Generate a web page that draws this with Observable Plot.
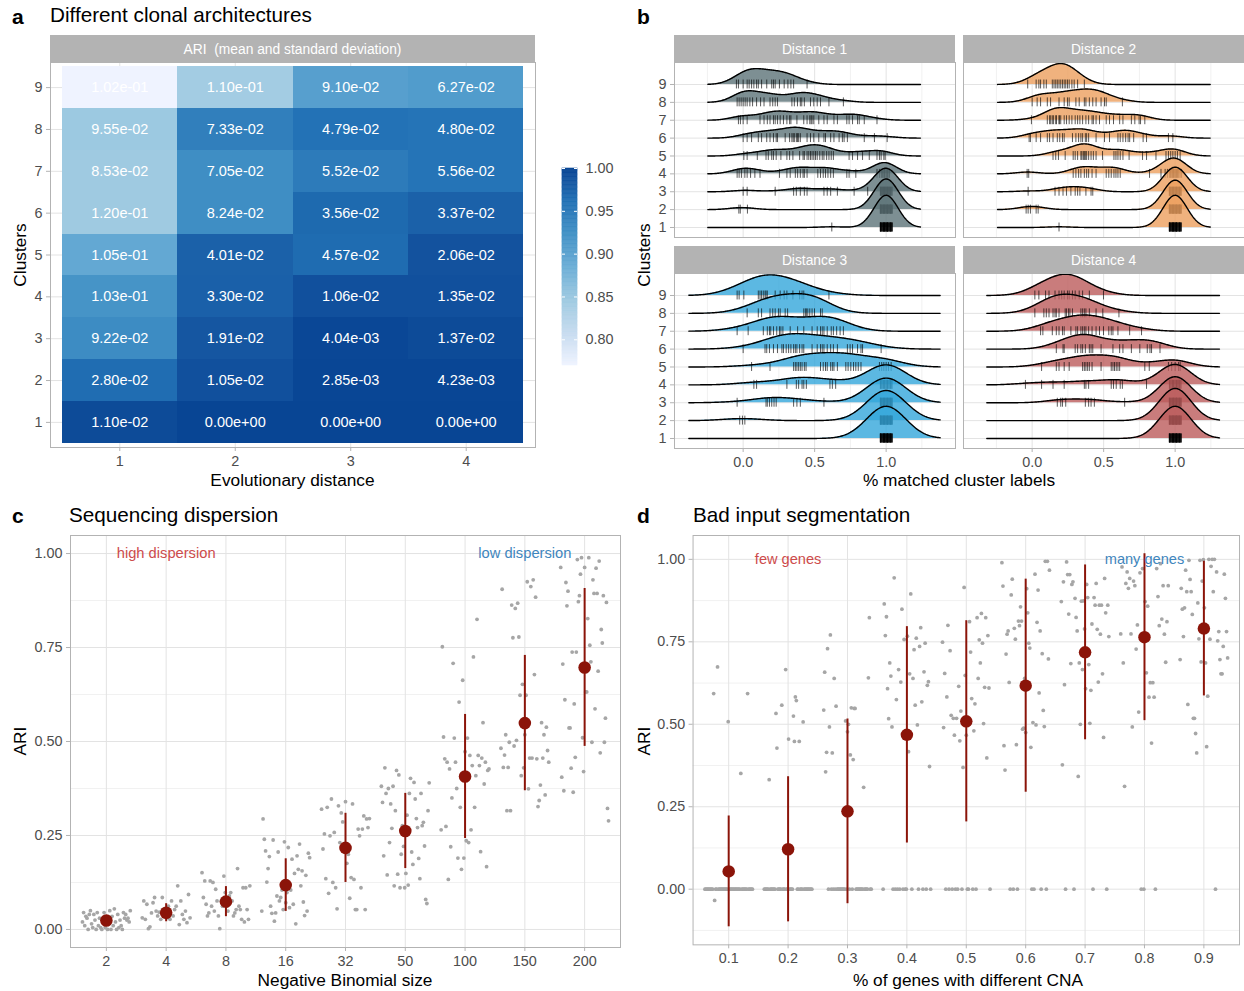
<!DOCTYPE html>
<html>
<head>
<meta charset="utf-8">
<script src="https://cdn.jsdelivr.net/npm/d3@7"></script>
<script src="https://cdn.jsdelivr.net/npm/@observablehq/plot@0.6"></script>
<style>
  html, body { margin:0; padding:0; background:#ffffff; }
  #root { position:relative; width:1244px; height:991px; overflow:hidden; font-family:"Liberation Sans", Arial, Helvetica, sans-serif; }
  .panel { position:absolute; }
  .panel svg { overflow: visible; }
  #overlay { position:absolute; left:0; top:0; pointer-events:none; }
</style>
</head>
<body>
<div id="root"></div>
<script>
// ---------------- DATA ----------------
// Panel a: ARI mean (fill) and standard deviation (label), clusters 1..9
const distances = [1, 2, 3, 4];
const clusters = [1, 2, 3, 4, 5, 6, 7, 8, 9];
const ariMeanD1 = [0.995, 0.965, 0.93, 0.92, 0.893, 0.846, 0.846, 0.848, 0.77];
const ariMeanD2 = [1.0, 0.99, 0.985, 0.976, 0.975, 0.928, 0.928, 0.945, 0.842];
const ariMeanD3 = [1.0, 0.999, 0.998, 0.99, 0.966, 0.968, 0.95, 0.96, 0.905];
const ariMeanD4 = [1.0, 0.999, 0.995, 0.99, 0.988, 0.975, 0.958, 0.958, 0.91];
const ariSdD1 = [0.0110, 0.0280, 0.0922, 0.103, 0.105, 0.120, 0.0853, 0.0955, 0.102];
const ariSdD2 = [0, 0.0105, 0.0191, 0.0330, 0.0401, 0.0824, 0.0705, 0.0733, 0.110];
const ariSdD3 = [0, 0.00285, 0.00404, 0.0106, 0.0457, 0.0356, 0.0552, 0.0479, 0.0910];
const ariSdD4 = [0, 0.00423, 0.0137, 0.0135, 0.0206, 0.0337, 0.0556, 0.0480, 0.0627];
const colorbarTicks = [0.80, 0.85, 0.90, 0.95, 1.00];

// Panel b: % matched cluster labels per run (rug values), clusters 1..9, per distance
const ridgeD1 = [
 [.62,.96,.97,.98,.99,1,1.01,1.02,1.03,1.04,.96,.97,.98,.99,1,1.01,1.02,1.03,1.04,.96,.97,.98,.99,1,1.01,1.02,1.03,1.04,.96,.97,.98,.99,1,1.01,1.02,1.03,1.04,.96,.97,.98,.99,1,1.01,1.02,1.03,1.04,.98,.99,1,1.01],
 [-.03,-.02,.03,.96,.97,.98,.99,1,1.01,1.02,1.03,1.04,.96,.97,.98,.99,1,1.01,1.02,1.03,1.04,.96,.97,.98,.99,1,1.01,1.02,1.03,1.04,.96,.97,.98,.99,1,1.01,1.02,1.03,1.04,.96,.97,.98,.99,1,1.01,1.02,1.03,1.04],
 [0,.028,.224,.353,.372,.4,.428,.447,.565,.588,.612,.659,.776,.871,.96,.97,.98,.99,1,1.01,1.02,1.03,1.04,.96,.97,.98,.99,1,1.01,1.02,1.03,1.04,.96,.97,.98,.99,1,1.01,1.02,1.03,1.04,.965,.975,.985,.995,1.005,1.015,1.025],
 [-.042,-.028,-.012,.012,.028,.052,.082,.118,.254,.306,.329,.365,.381,.4,.419,.428,.447,.522,.541,.56,.576,.593,.612,.631,.725,.741,.788,.936,.953,.965,.976,.988,1,1.012,1.024,.97,.98,.99,1,1.01,1.02],
 [.005,.028,.099,.16,.176,.2,.212,.231,.264,.306,.325,.348,.395,.419,.428,.447,.459,.471,.482,.494,.506,.518,.536,.553,.565,.584,.6,.616,.631,.741,.765,.8,.835,.882,.936,.953,.965,.984,.993],
 [0,.028,.059,.106,.129,.165,.188,.212,.231,.24,.294,.325,.341,.35,.358,.372,.38,.388,.4,.447,.471,.494,.529,.565,.576,.612,.635,.671,.694,.706,.729,.847,.918,1.007],
 [-.033,-.019,0,.028,.118,.146,.169,.188,.212,.224,.24,.259,.282,.306,.325,.334,.376,.424,.447,.466,.475,.482,.494,.529,.565,.588,.635,.659,.725,.741,.765,.8,.812,.847,.936],
 [-.042,-.028,-.014,0,.014,.028,.047,.066,.094,.122,.146,.188,.207,.224,.24,.341,.358,.38,.4,.41,.428,.471,.494,.518,.541,.6,.701],
 [-.047,-.033,0,.028,.042,.059,.075,.094,.106,.129,.165,.2,.212,.224,.254,.287,.313,.334,.353,.447]
];
const ridgeD2 = [
 [.188,.96,.97,.98,.99,1,1.01,1.02,1.03,1.04,.96,.97,.98,.99,1,1.01,1.02,1.03,1.04,.96,.97,.98,.99,1,1.01,1.02,1.03,1.04,.96,.97,.98,.99,1,1.01,1.02,1.03,1.04,.96,.97,.98,.99,1,1.01,1.02,1.03,1.04,.98,.99,1,1.01],
 [-.042,-.028,-.012,.028,.042,.96,.97,.98,.99,1,1.01,1.02,1.03,1.04,.96,.97,.98,.99,1,1.01,1.02,1.03,1.04,.96,.97,.98,.99,1,1.01,1.02,1.03,1.04,.96,.97,.98,.99,1,1.01,1.02,1.03,1.04,.96,.97,.98,.99,1,1.01,1.02,1.03,1.04],
 [-.028,.16,.188,.216,.24,.271,.301,.318,.334,.376,.412,.424,.96,.97,.98,.99,1,1.01,1.02,1.03,1.04,.96,.97,.98,.99,1,1.01,1.02,1.03,1.04,.96,.97,.98,.99,1,1.01,1.02,1.03,1.04,.96,.97,.98,.99,1,1.01,1.02,1.03,1.04],
 [-.035,-.024,.287,.306,.325,.341,.365,.381,.395,.419,.447,.518,.536,.553,.572,.586,.6,.616,.821,.901,.93,.946,.96,.969,.979,.988,.998,1.007,1.016,1.026,1.035,1.045,.97,.98,.99,1,1.01,1.02],
 [.146,.165,.184,.231,.287,.301,.318,.341,.348,.358,.365,.372,.381,.395,.412,.428,.447,.492,.572,.586,.6,.616,.635,.678,.772,.8,.866,.936,.953,.969,.984,1,1.016,1.035],
 [-.021,-.012,.028,.059,.106,.122,.146,.176,.193,.212,.224,.282,.306,.325,.341,.353,.372,.381,.395,.447,.506,.541,.6,.616,.635,.654,.671,.682,.71,.776,.8,.953,.984],
 [-.005,.106,.122,.13,.141,.15,.165,.17,.188,.19,.2,.224,.24,.259,.278,.301,.318,.334,.353,.376,.395,.419,.428,.447,.471,.518,.541,.569,.612,.635,.694,.718,.748,.758,.788],
 [0,.035,.059,.106,.129,.188,.224,.247,.259,.306,.329,.365,.376,.4,.424,.447,.482,.506,.518,.631],
 [-.031,.028,.047,.059,.082,.099,.141,.153,.165,.176,.188,.2,.212,.224,.235,.247,.259,.278,.294,.318,.365]
];
const ridgeD3 = [
 [.96,.97,.98,.99,1,1.01,1.02,1.03,1.04,.96,.97,.98,.99,1,1.01,1.02,1.03,1.04,.96,.97,.98,.99,1,1.01,1.02,1.03,1.04,.96,.97,.98,.99,1,1.01,1.02,1.03,1.04,.96,.97,.98,.99,1,1.01,1.02,1.03,1.04,.98,.99,1,1.01,1.02],
 [-.024,-.005,.012,.96,.97,.98,.99,1,1.01,1.02,1.03,1.04,.96,.97,.98,.99,1,1.01,1.02,1.03,1.04,.96,.97,.98,.99,1,1.01,1.02,1.03,1.04,.96,.97,.98,.99,1,1.01,1.02,1.03,1.04,.96,.97,.98,.99,1,1.01,1.02,1.03,1.04],
 [-.042,.16,.169,.184,.2,.216,.231,.353,.376,.4,.565,.96,.97,.98,.99,1,1.01,1.02,1.03,1.04,.96,.97,.98,.99,1,1.01,1.02,1.03,1.04,.96,.97,.98,.99,1,1.01,1.02,1.03,1.04,.96,.97,.98,.99,1,1.01,1.02,1.03,1.04],
 [.075,.094,.306,.372,.388,.412,.424,.442,.607,.624,.647,.96,.97,.98,.99,1,1.01,1.02,1.03,1.04,.96,.97,.98,.99,1,1.01,1.02,1.03,1.04],
 [.059,.188,.353,.365,.376,.388,.4,.412,.428,.44,.541,.56,.576,.588,.612,.624,.635,.659,.718,.734,.753,.772,.788,.805,.824,.953,.969,.984,1,1.016,1.035],
 [0,.153,.165,.184,.212,.24,.271,.282,.301,.318,.334,.353,.365,.376,.395,.412,.424,.482,.518,.541,.553,.565,.588,.612,.631,.659,.729,.748,.765,.8,.824,.835,.965],
 [-.042,.035,.141,.169,.184,.193,.212,.235,.254,.264,.278,.329,.381,.424,.482,.518,.541,.553,.565,.588,.616,.631,.654,.678,.701],
 [.028,.106,.129,.188,.207,.224,.247,.259,.294,.311,.424,.435,.442,.452,.466,.482,.499,.541,.553],
 [-.042,-.028,.005,.106,.118,.129,.141,.153,.16,.169,.224,.259,.287,.306,.348,.395,.412,.424,.6]
];
const ridgeD4 = [
 [.96,.97,.98,.99,1,1.01,1.02,1.03,1.04,.96,.97,.98,.99,1,1.01,1.02,1.03,1.04,.96,.97,.98,.99,1,1.01,1.02,1.03,1.04,.96,.97,.98,.99,1,1.01,1.02,1.03,1.04,.96,.97,.98,.99,1,1.01,1.02,1.03,1.04,.98,.99,1,1.01,1.02],
 [.96,.97,.98,.99,1,1.01,1.02,1.03,1.04,.96,.97,.98,.99,1,1.01,1.02,1.03,1.04,.96,.97,.98,.99,1,1.01,1.02,1.03,1.04,.96,.97,.98,.99,1,1.01,1.02,1.03,1.04,.96,.97,.98,.99,1,1.01,1.02,1.03,1.04,.98,.99,1,1.01,1.02],
 [.176,.2,.212,.235,.372,.395,.412,.435,.647,.96,.97,.98,.99,1,1.01,1.02,1.03,1.04,.96,.97,.98,.99,1,1.01,1.02,1.03,1.04,.96,.97,.98,.99,1,1.01,1.02,1.03,1.04,.96,.97,.98,.99,1,1.01,1.02,1.03,1.04,.99,1.01],
 [-.047,.066,.146,.224,.365,.376,.395,.553,.569,.588,.616,.631,.8,.96,.97,.98,.99,1,1.01,1.02,1.03,1.04,.96,.97,.98,.99,1,1.01,1.02,1.03,1.04,.98,.99,1.01,1.02],
 [.066,.169,.188,.224,.259,.353,.365,.376,.388,.4,.419,.482,.553,.565,.576,.588,.6,.612,.788,.819,.953,.976,1,1.024,1.035],
 [.169,.216,.224,.301,.318,.341,.353,.372,.4,.412,.424,.482,.565,.612,.635,.694,.753,.805,.824,.835,.894],
 [.059,.075,.141,.169,.188,.212,.224,.271,.306,.318,.341,.353,.365,.376,.395,.419,.447,.471,.499,.536,.553,.565,.6,.682,.765],
 [.019,.082,.099,.118,.146,.16,.169,.188,.231,.24,.254,.264,.282,.341,.353,.365,.376,.4,.447,.494,.607],
 [.019,.047,.094,.118,.16,.188,.207,.224,.247,.259,.282,.301,.329,.353,.4,.499]
];
const ridgeLabels = ["Distance 1", "Distance 2", "Distance 3", "Distance 4"];
const ridgeBandwidth = [0.08, 0.08, 0.135, 0.108];

// Panel c: ARI per run by Negative Binomial size (values listed left to right as drawn)
const nbSizes = ["2", "4", "8", "16", "32", "50", "100", "150", "200"];
const nbMean = [0.024, 0.0445, 0.074, 0.118, 0.217, 0.262, 0.407, 0.549, 0.697];
const nbSd = [0.012, 0.024, 0.040, 0.070, 0.092, 0.100, 0.165, 0.180, 0.210];
const nbPoints = [
 [.02,.045,.01,.035,.03,0,.04,.05,.015,.005,.04,.025,0,.045,.01,.03,.005,0,.02,.045,.005,.03,0,.015,.05,0,.035,.01,.055,.02,0,.04,.005,.025,.01,0,.045,.03,.04,.025,.03,.02,.05],
 [.031,.076,.027,.067,.002,.007,.044,.071,.085,.049,.036,.046,.027,.085,.053,.04,.031,.062,.027,.076,.036,.053,.062,.116,.013,.076,.04,.027,.049,.018,.093,.031],
 [.151,.085,.129,.067,.036,.044,.129,.062,.125,.049,.107,.076,.036,.002,.076,.062,.142,.098,.062,.049,.089,.098,.076,.036,.044,.053,.162,.062,.053,.027,.111,.02,.111,.053,.027,.116],
 [.049,.294,.24,.209,.126,.162,.194,.062,.043,.238,.022,.044,.089,.206,.076,.085,.105,.053,.233,.071,.098,.218,.058,.105,.187,.067,.149,.015,.196,.16,.227,.116,.156,.073,.037,.144,.049,.203,.191],
 [.32,.214,.254,.135,.325,.096,.249,.347,.125,.258,.111,.055,.329,.231,.31,.286,.222,.34,.176,.2,.083,.138,.334,.133,.053,.053,.267,.249,.111,.267,.302,.053,.294,.271,.295],
 [.381,.338,.196,.43,.362,.145,.375,.231,.334,.269,.381,.116,.316,.423,.147,.411,.111,.2,.276,.221,.111,.149,.304,.118,.362,.402,.206,.173,.391,.347,.295,.271,.189,.135,.362,.276,.285,.222,.08,.069,.316,.39],
 [.265,.752,.512,.454,.274,.445,.133,.427,.22,.35,.708,.509,.445,.375,.19,.605,.325,.16,.663,.19,.473,.236,.509,.231,.463,.265,.436,.725,.325,.409,.825,.463,.436,.207,.456,.55,.387,.445,.167,.423,.427],
 [.482,.905,.431,.464,.518,.316,.431,.498,.316,.863,.776,.488,.854,.503,.868,.778,.623,.409,.652,.43,.518,.623,.925,.374,.456,.912,.456,.93,.678,.884,.454,.327,.343,.384,.55,.456,.518,.358,.538,.476,.445],
 [.963,.405,.706,.369,.611,.923,.861,.9,.536,.536,.429,.738,.365,.6,.458,.738,.984,.872,.888,.945,.989,.51,.42,.963,.632,.632,.827,.989,.756,.712,.498,.93,.894,.587,.961,.894,.687,.98,.47,.798,.762,.888,.498,.562,.87,.322,.289]
];
const nbNotes = ["high dispersion", "low dispersion"];

// Panel d: ARI per run by % of genes with different CNA (values listed left to right as drawn)
const cnaFractions = ["0.1", "0.2", "0.3", "0.4", "0.5", "0.6", "0.7", "0.8", "0.9"];
const cnaMean = [0.054, 0.121, 0.236, 0.468, 0.509, 0.617, 0.718, 0.764, 0.79];
const cnaSd = [0.168, 0.22, 0.28, 0.328, 0.305, 0.323, 0.265, 0.253, 0.204];
const cnaPoints = [
 [0,0,0,0,0,0,0,0,0,.593,-.034,0,0,.674,0,0,0,0,0,0,0,0,0,0,.508,0,0,0,0,0,0,0,0,0,0,0,0,.351,0,0,0,0,0,0,.593,0,0,0,0,0],
 [0,0,0,0,0,.332,0,0,0,0,0,0,.533,.428,0,0,0,0,.558,0,0,0,.666,0,0,.455,0,0,0,0,.525,.448,.583,.572,0,0,.448,0,0,0,.507,0,0,0,0,0,0,0,0,0],
 [.543,.658,.356,.415,.729,0,.492,.771,0,.413,0,.639,0,.555,0,0,0,0,0,0,0,0,0,.51,0,.477,.5,0,.407,.55,0,.393,.548,.548,0,0,0,0,0,0,0,0,.309,0,0,0,0,.641,.823,0,0],
 [0,.865,.769,.826,.608,.517,.686,.646,.492,0,.944,0,.575,0,.666,0,.628,.849,0,.757,0,0,.767,.417,.653,.895,0,.639,.726,.558,.761,.498,0,.736,.793,.568,0,.659,.746,0,.618,.629,.372,0],
 [.749,.49,.654,0,.583,.8,0,.723,.527,0,.518,.467,0,.518,0,.615,.45,.54,0,.369,.915,.648,.467,0,0,.811,.719,.578,0,.48,.562,0,.823,.639,.756,.686,.836,.746,.502,.612,.823,.398,.769,.61,0],
 [.99,.919,.435,.361,.713,.773,.783,.627,0,.892,.94,0,.791,.758,.438,0,.813,.799,.856,.813,.485,.488,.639,.475,.911,.838,.746,.731,.43,0,.505,0,.955,.498,.809,.907,.595,.783,0,.714,.542,.493,.994,0,.994,.698,.967],
 [.872,.377,.932,.62,0,.992,.954,.834,.954,.684,.924,.932,0,.882,.824,.783,.342,.686,.5,.873,.666,.874,.789,.608,.924,.884,.681,.503,.603,.804,0,.884,.861,.927,.788,.628,.861,.773,.861,.653,.46,.942,.838,0,.861,.766],
 [.774,.977,.686,.312,.927,.962,.912,.942,.774,.492,.934,.92,.728,.801,.537,.959,0,.972,0,.872,.656,.858,.582,.626,.443,.626,.582,0,.972,.887,.799,.987,.819,.92,.773,.688,.811,.92],
 [.696,.912,.849,.766,.853,.967,.902,.56,.997,.939,.902,.833,.518,.518,.472,.413,.868,.759,.997,.689,.934,.999,.853,.686,.432,.585,1,.758,.979,1,.902,1,0,.962,.753,.781,.696,.653,.653,.736,.955,.882,.781,.701]
];
const cnaNotes = ["few genes", "many genes"];
const ariTicks = [0, 0.25, 0.5, 0.75, 1];

// ---------------- STYLE ----------------
const FONT = '"Liberation Sans", Arial, Helvetica, sans-serif';
const AXIS_TEXT = "#4d4d4d", AXIS_LINE = "#b3b3b3", GRID = "#e3e3e3", GRID_MINOR = "#f1f1f1";
const TICK_FS = 14.4;
const blues7 = ["#eff3ff", "#c6dbef", "#9ecae1", "#6baed6", "#4292c6", "#2171b5", "#084594"];
const ridgeFills = ["#5c7378", "#ec9f5e", "#33a6db", "#bc5b5b"];
const RED = "#8b1409", NOTE_RED = "#cd4b4b", NOTE_BLUE = "#3f86bd";
const baseStyle = {fontFamily: FONT, fontSize: "14.4px", color: AXIS_TEXT, background: "transparent", overflow: "visible"};

const root = document.getElementById("root");
function place(node, left, top) {
  const div = document.createElement("div");
  div.className = "panel";
  div.style.left = left + "px";
  div.style.top = top + "px";
  div.appendChild(node);
  root.appendChild(div);
}
function rExp(v) {
  const [m, e] = v.toExponential(2).split("e");
  const n = +e;
  return m + "e" + (n < 0 ? "-" : "+") + String(Math.abs(n)).padStart(2, "0");
}
const axisOpts = {stroke: AXIS_LINE, color: AXIS_TEXT, fontSize: TICK_FS, label: null};

// ---------------- PANEL A ----------------
const ariMeans = [ariMeanD1, ariMeanD2, ariMeanD3, ariMeanD4];
const ariSds = [ariSdD1, ariSdD2, ariSdD3, ariSdD4];
const cellData = distances.flatMap((d, j) => clusters.map((k, i) => ({d, k, mean: ariMeans[j][i], sd: ariSds[j][i]})));
const [cLo, cHi] = d3.extent(cellData, d => d.mean);
const colorScale = {type: "linear", domain: blues7.map((_, i) => cLo + i * (cHi - cLo) / (blues7.length - 1)), range: blues7, interpolate: "lab"};

place(Plot.plot({
  width: 540, height: 425, marginLeft: 50, marginRight: 5, marginTop: 0, marginBottom: 40,
  x: {type: "band", domain: distances, paddingInner: 0, paddingOuter: 0.1, round: false, axis: null},
  y: {type: "band", domain: [...clusters].reverse(), paddingInner: 0, paddingOuter: 0.1, round: false, axis: null},
  color: colorScale,
  style: baseStyle,
  marks: [
    Plot.gridX({stroke: GRID, strokeOpacity: 1}),
    Plot.gridY({stroke: GRID, strokeOpacity: 1}),
    Plot.cell(cellData, {x: "d", y: "k", fill: "mean", inset: 0, shapeRendering: "crispEdges"}),
    Plot.text(cellData, {x: "d", y: "k", text: d => rExp(d.sd), fill: "white", fontSize: 14.5}),
    Plot.frame({stroke: AXIS_LINE}),
    Plot.axisX({...axisOpts, tickSize: 4, tickPadding: 4}),
    Plot.axisY({...axisOpts, tickSize: 4, tickPadding: 4})
  ]
}), 0, 62);

// colour bar
const barSteps = d3.range(150).map(i => ({a: cLo + (cHi - cLo) * i / 150, b: cLo + (cHi - cLo) * (i + 1) / 150}));
place(Plot.plot({
  width: 60, height: 197, marginLeft: 0, marginRight: 45, marginTop: 0, marginBottom: 0,
  x: {domain: [0, 1], axis: null},
  y: {domain: [cLo, cHi], axis: null},
  color: colorScale,
  style: baseStyle,
  marks: [
    Plot.rect(barSteps, {x1: 0, x2: 1, y1: "a", y2: "b", fill: d => (d.a + d.b) / 2, stroke: d => (d.a + d.b) / 2, strokeWidth: 0.6}),
    Plot.ruleY(colorbarTicks, {x1: 0, x2: 0.2, stroke: "white"}),
    Plot.ruleY(colorbarTicks, {x1: 0.8, x2: 1, stroke: "white"}),
    Plot.axisY({anchor: "right", ticks: colorbarTicks, tickSize: 0, tickPadding: 8, tickFormat: d => d.toFixed(2), color: AXIS_TEXT, fontSize: TICK_FS, label: null})
  ]
}), 562, 168);

// ---------------- PANEL B ----------------
function ridgeFacet(groups, bw, fill, showY, showX) {
  const all = groups.flat();
  const lo = d3.min(all) - 2.5 * bw, hi = d3.max(all) + 2.5 * bw;
  const xs = d3.range(300).map(i => lo + (hi - lo) * i / 299);
  const dens = groups.map(vals => {
    const c = 1 / (vals.length * bw * Math.sqrt(2 * Math.PI));
    return xs.map(x => c * d3.sum(vals, v => Math.exp(-0.5 * ((x - v) / bw) ** 2)));
  });
  const maxD = d3.max(dens.flat());
  const marks = [
    Plot.ruleX([-0.25, 0.25, 0.75, 1.25], {stroke: GRID_MINOR}),
    Plot.ruleX([0, 0.5, 1], {stroke: GRID}),
    Plot.ruleY(clusters, {stroke: GRID})
  ];
  for (let i = groups.length - 1; i >= 0; i--) {
    const k = clusters[i];
    const pts = xs.map((x, j) => ({x, base: k, top: k + 1.8 * dens[i][j] / maxD}));
    marks.push(Plot.area(pts, {x1: "x", y1: "base", y2: "top", fill, fillOpacity: 0.8, clip: true}));
    marks.push(Plot.ruleX(groups[i], {x: d => d, y1: k - 0.25, y2: k + 0.25, stroke: "#000", strokeOpacity: 0.65, strokeWidth: 1, clip: true}));
    marks.push(Plot.line(pts, {x: "x", y: "top", stroke: "#000", strokeWidth: 1.4, clip: true}));
  }
  marks.push(Plot.frame({stroke: AXIS_LINE}));
  if (showY) marks.push(Plot.axisY({...axisOpts, ticks: clusters, tickFormat: d => String(d), tickSize: 4, tickPadding: 4}));
  if (showX) marks.push(Plot.axisX({...axisOpts, ticks: [0, 0.5, 1], tickFormat: d => d.toFixed(1), tickSize: 4, tickPadding: 4}));
  return Plot.plot({
    width: (showY ? 40 : 0) + 281, height: 175 + (showX ? 30 : 0),
    marginLeft: showY ? 40 : 0, marginRight: 0, marginTop: 0, marginBottom: showX ? 30 : 0,
    x: {domain: [-0.48, 1.485], axis: null},
    y: {domain: [0.44, 10.23], axis: null},
    style: baseStyle,
    marks
  });
}
const ridgeData = [ridgeD1, ridgeD2, ridgeD3, ridgeD4];
place(ridgeFacet(ridgeData[0], ridgeBandwidth[0], ridgeFills[0], true, false), 634, 62);
place(ridgeFacet(ridgeData[1], ridgeBandwidth[1], ridgeFills[1], false, false), 963, 62);
place(ridgeFacet(ridgeData[2], ridgeBandwidth[2], ridgeFills[2], true, true), 634, 273);
place(ridgeFacet(ridgeData[3], ridgeBandwidth[3], ridgeFills[3], false, true), 963, 273);

// ---------------- PANELS C & D ----------------
function scatterPanel(groups, means, sds, labels, yDomain, yMinor, notes, noteIdx) {
  const n = labels.length;
  const pts = groups.flatMap((vals, g) => vals.map((v, i) => ({x: g + (vals.length > 1 ? -0.4 + 0.8 * i / (vals.length - 1) : 0), y: v})));
  const stats = means.map((m, i) => ({i, mean: m, sd: sds[i]}));
  return Plot.plot({
    width: 625, height: 447, marginLeft: 70, marginRight: 5, marginTop: 0, marginBottom: 35,
    x: {domain: [-0.6, n - 1 + 0.6], axis: null},
    y: {domain: yDomain, axis: null},
    style: baseStyle,
    marks: [
      Plot.ruleY(yMinor, {stroke: GRID_MINOR}),
      Plot.ruleY(ariTicks, {stroke: GRID}),
      Plot.ruleX(d3.range(n), {stroke: GRID}),
      Plot.dot(pts, {x: "x", y: "y", r: 1.9, fill: "#a6a6a6"}),
      Plot.ruleX(stats, {x: "i", y1: d => d.mean - d.sd, y2: d => d.mean + d.sd, stroke: RED, strokeWidth: 2}),
      Plot.dot(stats, {x: "i", y: "mean", r: 6.3, fill: RED}),
      Plot.text([notes[0]], {x: noteIdx[0], y: 1, text: d => d, fill: NOTE_RED, fontSize: 14.7}),
      Plot.text([notes[1]], {x: noteIdx[1], y: 1, text: d => d, fill: NOTE_BLUE, fontSize: 14.7}),
      Plot.frame({stroke: AXIS_LINE}),
      Plot.axisX({...axisOpts, ticks: d3.range(n), tickFormat: i => labels[i], tickSize: 4, tickPadding: 4}),
      Plot.axisY({...axisOpts, ticks: ariTicks, tickFormat: d => d.toFixed(2), tickSize: 4, tickPadding: 4})
    ]
  });
}
place(scatterPanel(nbPoints, nbMean, nbSd, nbSizes, [-0.048, 1.048], [0.125, 0.375, 0.625, 0.875], nbNotes, [nbSizes.indexOf("4"), nbSizes.indexOf("150")]), 0, 535);
place(scatterPanel(cnaPoints, cnaMean, cnaSd, cnaFractions, [-0.1687, 1.0723], [-0.125, 0.125, 0.375, 0.625, 0.875], cnaNotes, [cnaFractions.indexOf("0.2"), cnaFractions.indexOf("0.8")]), 623, 535);

// ---------------- TEXT OVERLAY ----------------
const ov = d3.select(root).append("svg").attr("id", "overlay").attr("width", 1244).attr("height", 991).style("font-family", FONT);
function txt(x, y, s, o = {}) {
  const t = ov.append("text").attr("x", x).attr("y", y).text(s)
    .attr("font-size", o.size || 17.3).attr("fill", o.fill || "#000")
    .attr("text-anchor", o.anchor || "start").attr("font-weight", o.weight || "normal")
    .style("white-space", "pre");
  if (o.rotate) t.attr("x", 0).attr("y", 0).attr("transform", `translate(${x},${y}) rotate(-90)`);
  return t;
}
function strip(x, y, w, label) {
  ov.append("rect").attr("x", x).attr("y", y).attr("width", w).attr("height", 27).attr("fill", "#b3b3b3");
  txt(x + w / 2, y + 18.5, label, {size: 13.8, fill: "#ffffff", anchor: "middle"});
}
// panel a
txt(12, 24, "a", {size: 21, weight: "bold"});
txt(50, 22, "Different clonal architectures", {size: 20.7});
strip(50, 35, 485, "ARI  (mean and standard deviation)");
txt(292.5, 486, "Evolutionary distance", {anchor: "middle"});
txt(26, 255, "Clusters", {anchor: "middle", rotate: true});
// panel b
txt(637, 24, "b", {size: 21, weight: "bold"});
strip(674, 35, 281, ridgeLabels[0]);
strip(963, 35, 281, ridgeLabels[1]);
strip(674, 246, 281, ridgeLabels[2]);
strip(963, 246, 281, ridgeLabels[3]);
txt(959, 486, "% matched cluster labels", {anchor: "middle"});
txt(650, 255, "Clusters", {anchor: "middle", rotate: true});
// panel c
txt(12, 523, "c", {size: 21, weight: "bold"});
txt(69, 522, "Sequencing dispersion", {size: 20.7});
txt(345, 986, "Negative Binomial size", {anchor: "middle"});
txt(26, 741, "ARI", {anchor: "middle", rotate: true});
// panel d
txt(637, 523, "d", {size: 21, weight: "bold"});
txt(693, 522, "Bad input segmentation", {size: 20.7});
txt(968, 986, "% of genes with different CNA", {anchor: "middle"});
txt(650, 741, "ARI", {anchor: "middle", rotate: true});
</script>
</body>
</html>
